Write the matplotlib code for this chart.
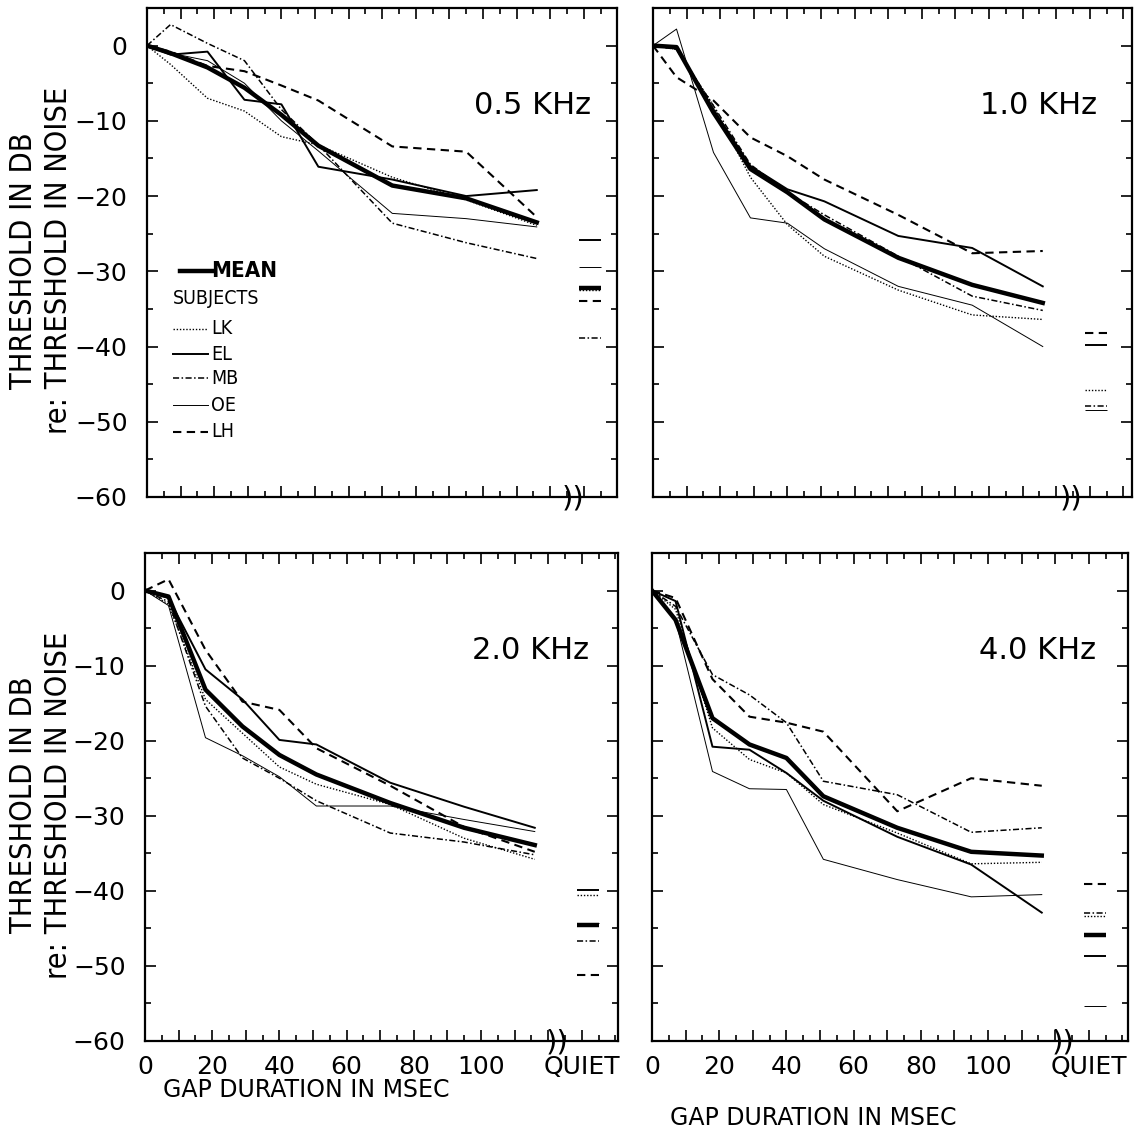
import matplotlib
matplotlib.use('Agg')
import matplotlib.pyplot as plt
from matplotlib.ticker import MultipleLocator

# gap durations (msec) where thresholds were measured
gap = [0, 7, 18, 29, 40, 51, 73, 95, 116]
subjects = ['LK', 'EL', 'MB', 'OE', 'LH']
freq_labels = ['0.5 KHz', '1.0 KHz', '2.0 KHz', '4.0 KHz']

# 0.5 kHz
mean_05 = [0, -1.0, -2.9, -5.6, -9.2, -13.3, -18.6, -20.3, -23.5]
lk_05 = [0, -2.5, -7.0, -8.7, -12.1, -13.2, -17.5, -20.5, -23.9]
el_05 = [0, -1.2, -0.8, -7.2, -7.8, -16.1, -17.8, -20.0, -19.2]
mb_05 = [0, 2.8, 0.3, -2.0, -8.5, -13.2, -23.6, -26.2, -28.3]
oe_05 = [0, -1.0, -2.0, -5.0, -10.0, -14.0, -22.3, -23.0, -24.1]
lh_05 = [0, -0.8, -2.7, -3.4, -5.3, -7.3, -13.4, -14.1, -22.8]
quiet_05 = [-32.2, -32.5, -25.8, -38.9, -29.4, -33.9]  # mean, LK, EL, MB, OE, LH

# 1.0 kHz
mean_10 = [0, -0.2, -8.9, -16.4, -19.5, -23.1, -28.2, -31.8, -34.2]
lk_10 = [0, -0.5, -8.0, -17.5, -23.8, -28.0, -32.5, -35.8, -36.4]
el_10 = [0, -0.3, -8.5, -16.0, -19.1, -20.7, -25.3, -26.9, -32.0]
mb_10 = [0, -0.5, -8.0, -15.8, -19.5, -22.5, -28.0, -33.3, -35.2]
oe_10 = [0, 2.2, -14.2, -22.9, -23.6, -27.0, -32.0, -34.5, -40.0]
lh_10 = [0, -4.2, -7.3, -12.2, -14.7, -17.8, -22.5, -27.6, -27.3]
quiet_10 = [None, -45.8, -39.8, -47.9, -48.5, -38.2]

# 2.0 kHz
mean_20 = [0, -0.8, -13.2, -18.1, -21.9, -24.5, -28.3, -31.6, -33.9]
lk_20 = [0, -1.8, -14.5, -19.0, -23.5, -25.8, -28.5, -33.0, -35.8]
el_20 = [0, -1.0, -10.5, -14.5, -19.9, -20.5, -25.6, -28.8, -31.6]
mb_20 = [0, -1.5, -15.4, -22.3, -25.0, -28.0, -32.3, -33.5, -35.2]
oe_20 = [0, -2.0, -19.6, -22.0, -24.8, -28.7, -28.7, -30.5, -32.1]
lh_20 = [0, 1.5, -7.9, -14.8, -15.9, -21.0, -26.0, -31.5, -34.8]
quiet_20 = [-44.5, -40.6, -39.9, -46.7, -44.3, -51.2]

# 4.0 kHz
mean_40 = [0, -3.9, -17.0, -20.5, -22.3, -27.4, -31.6, -34.8, -35.3]
lk_40 = [0, -2.5, -18.3, -22.5, -24.3, -28.5, -32.3, -36.4, -36.2]
el_40 = [0, -1.4, -20.8, -21.2, -24.3, -28.0, -32.8, -36.5, -42.9]
mb_40 = [0, -2.1, -11.2, -13.9, -17.6, -25.4, -27.2, -32.2, -31.6]
oe_40 = [0, -3.9, -24.1, -26.4, -26.5, -35.8, -38.5, -40.8, -40.5]
lh_40 = [0, -1.0, -11.8, -16.8, -17.6, -18.8, -29.4, -25.0, -26.0]
quiet_40 = [-45.9, -43.3, -48.7, -43.0, -55.4, -39.1]

panels = [
    [mean_05, lk_05, el_05, mb_05, oe_05, lh_05, quiet_05],
    [mean_10, lk_10, el_10, mb_10, oe_10, lh_10, quiet_10],
    [mean_20, lk_20, el_20, mb_20, oe_20, lh_20, quiet_20],
    [mean_40, lk_40, el_40, mb_40, oe_40, lh_40, quiet_40],
]

STYLES = [
    dict(color='black', lw=3.2, ls='-'),                  # MEAN
    dict(color='black', lw=1.0, ls=(0, (1, 1.3))),        # LK
    dict(color='black', lw=1.4, ls='-'),                  # EL
    dict(color='black', lw=1.1, ls=(0, (4, 1.6, 1, 1.6))),  # MB
    dict(color='black', lw=0.7, ls='-'),                  # OE
    dict(color='black', lw=1.5, ls=(0, (4, 2.6))),        # LH
]

plt.rcParams['font.family'] = 'DejaVu Sans'

W = 1136.0
# axes boxes in pixels: left, top, right, bottom
boxes = [(147, 8, 617, 497), (653, 8, 1132, 497),
         (145, 553, 618, 1041), (652, 553, 1128, 1041)]
breaks = [126.8, 124.4, 122.6, 122.4]
PX_PER_MS = 3.36

fig = plt.figure(figsize=(11.36, 11.36), dpi=100)
axes = []
for i, (l, t, r, b) in enumerate(boxes):
    ax = fig.add_axes([l / W, 1 - b / W, (r - l) / W, (b - t) / W])
    axes.append(ax)
    data = panels[i]
    for series, st in zip(data[:6], STYLES):
        ax.plot(gap, series, solid_joinstyle='round', **st)
    for q, st in zip(data[6], STYLES):
        if q is not None:
            ax.hlines(q, 128.5, 135, color=st['color'], lw=st['lw'], linestyles=[st['ls']])

    ax.set_xlim(0, (r - l) / PX_PER_MS)
    ax.set_ylim(-60, 5)
    ax.xaxis.set_major_locator(MultipleLocator(10))
    ax.xaxis.set_minor_locator(MultipleLocator(5))
    ax.yaxis.set_major_locator(MultipleLocator(10))
    ax.yaxis.set_minor_locator(MultipleLocator(5))
    ax.tick_params(which='both', direction='in', top=True, right=True, width=1.2)
    ax.tick_params(which='major', length=8)
    ax.tick_params(which='minor', length=4)
    for sp in ax.spines.values():
        sp.set_linewidth(1.6)

    if i >= 2:
        shown = {0: '0', 20: '20', 40: '40', 60: '60', 80: '80', 100: '100', 130: 'QUIET'}
        ax.set_xticks(range(0, 140, 10))
        ax.set_xticklabels([shown.get(v, '') for v in range(0, 140, 10)], fontsize=18)
        ax.tick_params(axis='x', pad=10)
        ax.text(48, -0.1 if i == 2 else -0.157, 'GAP DURATION IN MSEC', fontsize=17,
                ha='center', va='center', transform=ax.get_xaxis_transform())
    else:
        ax.set_xticklabels([])
    if i % 2 == 0:
        ax.set_yticks(range(-60, 1, 10))
        ax.set_yticklabels([str(v).replace('-', '\u2212') for v in range(-60, 1, 10)], fontsize=18)
        ax.tick_params(axis='y', pad=14)
        fig.text(41 / W, 1 - ((t + b) / 2 + 8) / W, 'THRESHOLD IN DB\nre: THRESHOLD IN NOISE',
                 rotation=90, ha='center', va='center', multialignment='center',
                 fontsize=22, fontstretch='condensed', linespacing=1.25)
    else:
        ax.set_yticklabels([])

    ax.text(132, -8, freq_labels[i], fontsize=22, ha='right', va='center')
    ax.text(breaks[i], -60.2, '))', fontsize=21, ha='center', va='center', clip_on=False)

# legend in the first panel
ax = axes[0]
ax.plot([0.07, 0.138], [0.463, 0.463], transform=ax.transAxes, **STYLES[0])
ax.text(0.136, 0.463, 'MEAN', transform=ax.transAxes, fontsize=16, fontweight='heavy',
        fontstretch='condensed', ha='left', va='center')
ax.text(0.055, 0.406, 'SUBJECTS', transform=ax.transAxes, fontsize=14,
        fontstretch='condensed', ha='left', va='center')
leg_y = [0.3436, 0.292, 0.243, 0.188, 0.1335]
for name, st, yy in zip(subjects, STYLES[1:], leg_y):
    ax.plot([0.055, 0.13], [yy, yy], transform=ax.transAxes, **st)
    ax.text(0.136, yy, name, transform=ax.transAxes, fontsize=14,
            fontstretch='condensed', ha='left', va='center')

fig.savefig('out.png', dpi=100)
